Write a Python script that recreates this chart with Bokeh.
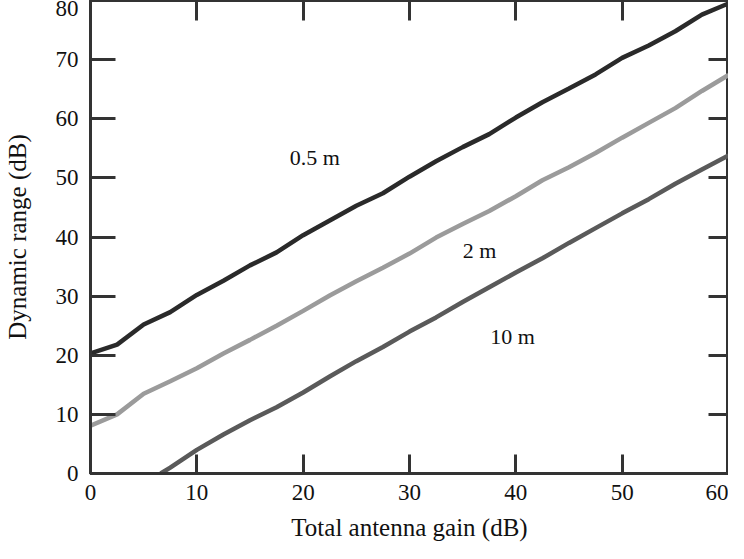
from bokeh.plotting import figure
from bokeh.models import Range1d, LinearAxis, FixedTicker, ColumnDataSource
from bokeh.core.properties import value
from bokeh.embed import file_html
from bokeh.resources import INLINE

# ---- data ----
gain_a = [0, 2.5, 5, 7.5, 10, 12.5, 15, 17.5, 20, 22.5, 25, 27.5, 30, 32.5, 35,
          37.5, 40, 42.5, 45, 47.5, 50, 52.5, 55, 57.5, 60]
range_05m = [20.3, 21.8, 25.2, 27.3, 30.2, 32.6, 35.2, 37.4, 40.3, 42.8, 45.3, 47.4,
             50.2, 52.8, 55.2, 57.4, 60.2, 62.8, 65.1, 67.5, 70.3, 72.4, 74.8, 77.6, 79.5]
range_2m = [8.1, 10.0, 13.5, 15.6, 17.8, 20.3, 22.6, 25.0, 27.5, 30.1, 32.5, 34.8,
            37.2, 39.9, 42.2, 44.4, 46.9, 49.6, 51.8, 54.2, 56.8, 59.3, 61.8, 64.7, 67.4]
gain_c = [6.6, 7.5, 10, 12.5, 15, 17.5, 20, 22.5, 25, 27.5, 30, 32.5, 35, 37.5, 40,
          42.5, 45, 47.5, 50, 52.5, 55, 57.5, 60]
range_10m = [0.0, 1.0, 4.0, 6.6, 9.0, 11.2, 13.7, 16.4, 19.0, 21.4, 24.0, 26.4, 29.0,
             31.5, 34.0, 36.4, 39.0, 41.5, 44.0, 46.4, 49.0, 51.4, 53.8]

label_text = ["0.5 m", "2 m", "10 m"]
label_x = [21.1, 36.6, 39.7]
label_y = [53.4, 37.8, 23.1]

x_ticks = [0, 10, 20, 30, 40, 50, 60]
y_ticks = [0, 10, 20, 30, 40, 50, 60, 70, 80]

FONT = "Liberation Serif"
AX = "#333333"

p = figure(width=728, height=543, x_range=Range1d(0, 60), y_range=Range1d(0, 80),
           output_backend="svg", toolbar_location=None,
           min_border_left=0, min_border_right=0, min_border_top=0, min_border_bottom=0,
           x_axis_label="Total antenna gain (dB)", y_axis_label="Dynamic range (dB)")
p.grid.visible = False
p.outline_line_color = AX
p.outline_line_width = 3

p.line(gain_a, range_05m, line_color="#2a2a2a", line_width=4.5)
p.line(gain_a, range_2m, line_color="#9b9b9b", line_width=4.5)
p.line(gain_c, range_10m, line_color="#5a5a5a", line_width=4.5)

src = ColumnDataSource(dict(x=label_x, y=label_y, t=label_text))
p.text(x="x", y="y", text="t", source=src, text_font=value(FONT),
       text_font_size="22px", text_align="center", text_baseline="middle",
       text_color="#111111")


def style(ax, tick_in, ticks):
    ax.ticker = FixedTicker(ticks=ticks, minor_ticks=[])
    ax.major_tick_in = tick_in
    ax.major_tick_out = 0
    ax.minor_tick_in = 0
    ax.minor_tick_out = 0
    ax.major_tick_line_color = AX
    ax.major_tick_line_width = 3
    ax.axis_line_color = AX
    ax.axis_line_width = 3
    ax.major_label_text_font = FONT
    ax.major_label_text_font_size = "23px"
    ax.major_label_text_color = "#111111"
    ax.axis_label_text_font = FONT
    ax.axis_label_text_font_size = "25px"
    ax.axis_label_text_font_style = "normal"
    ax.axis_label_text_color = "#111111"


# panels sit directly against the frame (no min_border gap) so inward ticks stay aligned
style(p.xaxis[0], 19, x_ticks)
p.xaxis[0].major_label_standoff = 11
p.xaxis[0].axis_label_standoff = 11
style(p.yaxis[0], 25, y_ticks)
p.yaxis[0].major_label_standoff = 12
p.yaxis[0].axis_label_standoff = 22

# top/right axes only carry inward ticks; their invisible labels reserve the margin
top = LinearAxis()
style(top, 20, x_ticks)
top.major_label_text_font_size = "11px"
top.major_label_text_color = None
top.major_label_standoff = 1
top.axis_line_color = None
p.add_layout(top, "above")

right = LinearAxis()
style(right, 20, y_ticks)
right.major_label_text_font_size = "11px"
right.major_label_text_color = None
right.major_label_standoff = 2
right.axis_line_color = None
p.add_layout(right, "right")

open("out.html", "w").write(file_html(p, INLINE))
